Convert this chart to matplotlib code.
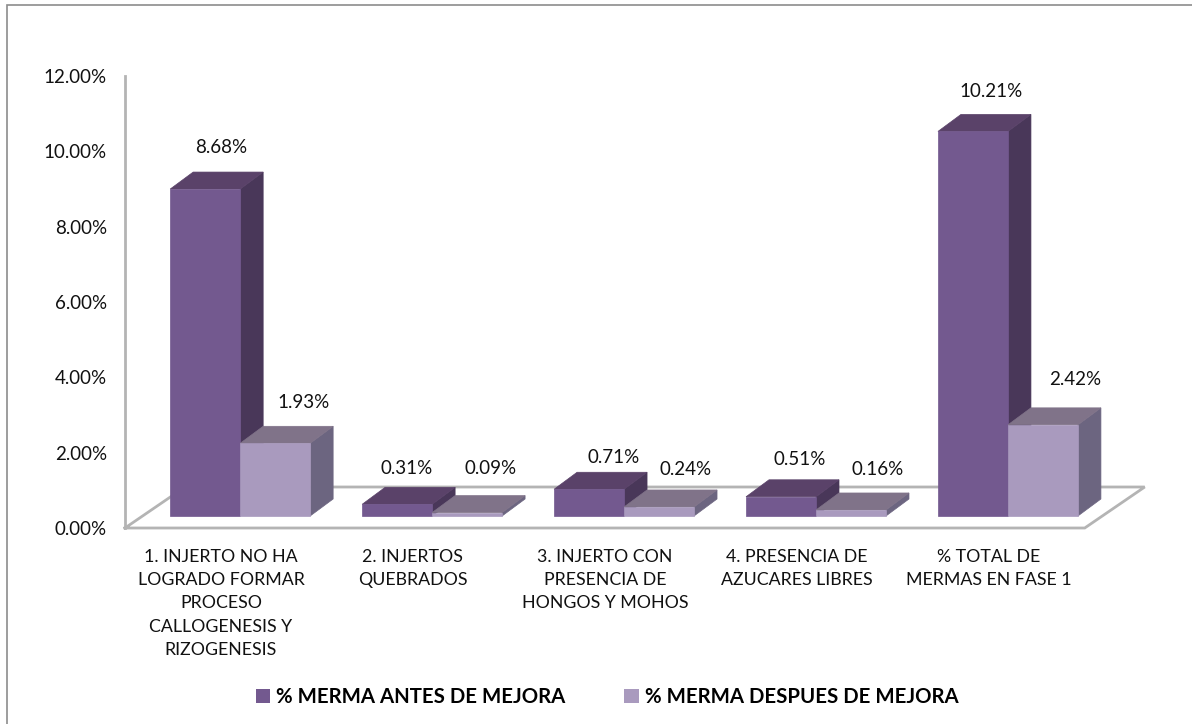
#!/usr/bin/env python
import matplotlib
matplotlib.use('Agg')
import matplotlib.pyplot as plt
from matplotlib.lines import Line2D
from matplotlib.patches import Polygon, Patch

plt.rcParams['font.family'] = ['Lato', 'DejaVu Sans']

categories = ['1. INJERTO NO HA\nLOGRADO FORMAR\nPROCESO\nCALLOGENESIS Y\nRIZOGENESIS',
              '2. INJERTOS\nQUEBRADOS',
              '3. INJERTO CON\nPRESENCIA DE\nHONGOS Y MOHOS',
              '4. PRESENCIA DE\nAZUCARES LIBRES',
              '% TOTAL DE\nMERMAS EN FASE 1']
antes = [8.68, 0.31, 0.71, 0.51, 10.21]
despues = [1.93, 0.09, 0.24, 0.16, 2.42]
series_names = ['% MERMA ANTES DE MEJORA', '% MERMA DESPUES DE MEJORA']
y_ticks = [0, 2, 4, 6, 8, 10, 12]

# front, top, side colors of each series
colors_antes = ('#73598F', '#5A4269', '#493759')
colors_despues = ('#A99ABE', '#807389', '#6C6580')
grid_color = '#B4B4B4'

W, H = 1192, 724
fig = plt.figure(figsize=(W / 100, H / 100), dpi=100)

# picture is cropped: only the top and left edges of the chart frame show
fig.add_artist(Line2D([6.5 / W, 6.5 / W, 1], [0, 1 - 4.5 / H, 1 - 4.5 / H], color='#8C8C8C', lw=1.2,
                      solid_joinstyle='miter'))

# axes: value 0 at y=528px, 12% at y=76px, one category = 192px
ax = fig.add_axes([125 / W, 1 - 528 / H, 1020 / W, 452 / H])
ax.patch.set_alpha(0)
ax.set_xlim(-0.6, 4.714)
ax.set_ylim(0, 12)
for name in ['top', 'right', 'bottom']:
    ax.spines[name].set_visible(False)
ax.spines['left'].set_color(grid_color)
ax.spines['left'].set_linewidth(2)
ax.set_yticks(y_ticks)
ax.set_yticklabels([f'{v:.2f}%' for v in y_ticks], fontsize=13.5, color='#111111')
ax.tick_params(axis='y', length=0, pad=13)

# category labels sit a bit left of the group centre
ax.set_xticks([i - 0.1 for i in range(len(categories))])
ax.set_xticklabels(categories, fontsize=12.8, linespacing=1.56, color='#111111')
ax.tick_params(axis='x', length=0, pad=15)

# 3D depth of floor and bars in data units
floor_dx, floor_dy = 60 / 192, 41 / 37.67
bar_dx, bar_dy = 23 / 192, 17 / 37.67
base = 12 / 37.67
width = 70 / 192

# floor
x0, x1 = -0.6, 4.4
ax.plot([x0, x1, x1 + floor_dx, x0 + floor_dx, x0], [0, 0, floor_dy, floor_dy, 0],
        color=grid_color, lw=2, clip_on=False, solid_joinstyle='miter', zorder=1)


def draw_bar(x, v, cols):
    top = base + v
    front = [(x, base), (x + width, base), (x + width, top), (x, top)]
    roof = [(x, top), (x + width, top), (x + width + bar_dx, top + bar_dy), (x + bar_dx, top + bar_dy)]
    side = [(x + width, base), (x + width + bar_dx, base + bar_dy),
            (x + width + bar_dx, top + bar_dy), (x + width, top)]
    for pts, c in zip((side, roof, front), (cols[2], cols[1], cols[0])):
        ax.add_patch(Polygon(pts, closed=True, facecolor=c, edgecolor=c, lw=0.5, zorder=3, clip_on=False))


for i in range(len(categories)):
    draw_bar(i - width, antes[i], colors_antes)
    draw_bar(i, despues[i], colors_despues)

# value labels, manually placed in the original; shifts in px
shift_antes = [(-7, 25), (-13, 19), (2, 15), (-4, 20), (-5, 23)]
shift_despues = [(5, 24), (0, 27), (4, 20), (4, 23), (9, 28)]
for i in range(len(categories)):
    for v, off, sh in ((antes[i], -width / 2, shift_antes[i]), (despues[i], width / 2, shift_despues[i])):
        ax.annotate(f'{v:.2f}%', (i + off + bar_dx, base + v + bar_dy),
                    xytext=(sh[0] * 0.72, sh[1] * 0.72), textcoords='offset points',
                    ha='center', va='center', fontsize=13.5, color='#111111', clip_on=False)

handles = [Patch(facecolor=colors_antes[0], label=series_names[0]),
           Patch(facecolor=colors_despues[0], label=series_names[1])]
fig.legend(handles=handles, loc='center', bbox_to_anchor=(607 / W, 1 - 697 / H), ncol=2, frameon=False,
           prop={'size': 14.7, 'weight': 'bold'}, handlelength=0.7, handleheight=0.7,
           handletextpad=0.3, columnspacing=2.9)

fig.savefig('out.png', dpi=100)
